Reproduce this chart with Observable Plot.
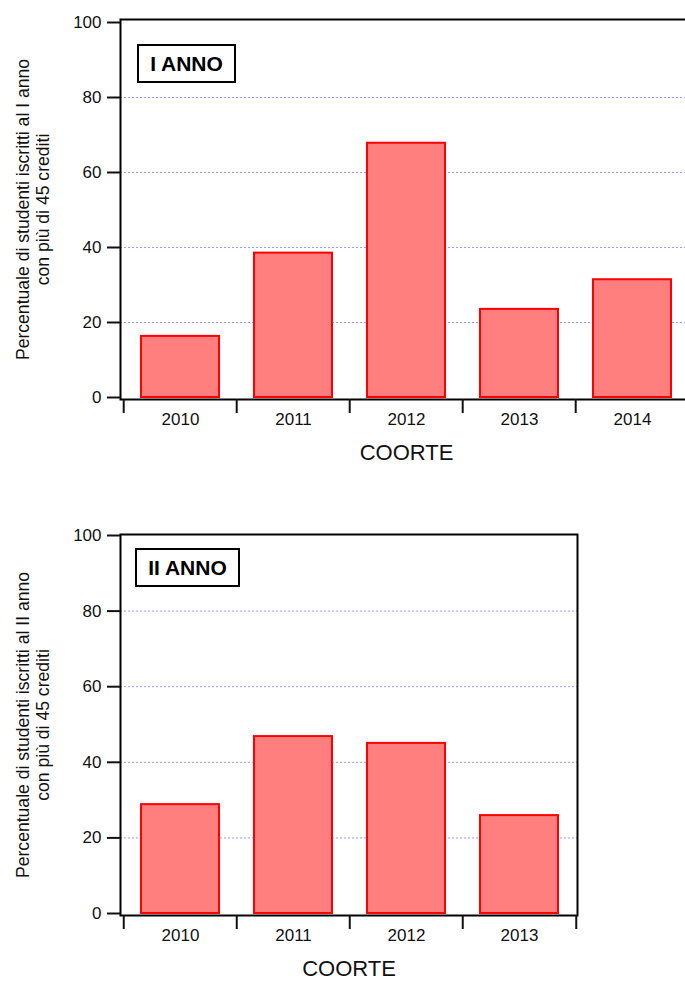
<!DOCTYPE html>
<html>
<head>
<meta charset="utf-8">
<script src="https://cdn.jsdelivr.net/npm/d3@7"></script>
<script src="https://cdn.jsdelivr.net/npm/@observablehq/plot@0.6"></script>
<style>
  html, body { margin: 0; padding: 0; background: #fff; overflow: hidden; }
  body { width: 685px; height: 985px; position: relative; font-family: "Liberation Sans", Arial, sans-serif; }
  .chart { position: absolute; left: 0; }
  .chart svg { max-width: none !important; }
  .tag { position: absolute; border: 2px solid #000; box-sizing: border-box; background: #fff;
         font: bold 21px "Liberation Sans", Arial, sans-serif; color: #000;
         display: flex; align-items: center; justify-content: center; }
</style>
</head>
<body>
<div id="c1" class="chart" style="top:0"></div>
<div id="c2" class="chart" style="top:500px"></div>
<div class="tag" style="left:137px; top:44px; width:99px; height:39px;">I ANNO</div>
<div class="tag" style="left:135px; top:548px; width:105px; height:39px;">II ANNO</div>
<script>
const years1 = ["2010", "2011", "2012", "2013", "2014"];
const values1 = [16.3, 38.5, 67.8, 23.5, 31.4];
const years2 = ["2010", "2011", "2012", "2013"];
const values2 = [28.8, 46.8, 45.0, 25.9];
const yTicks = [0, 20, 40, 60, 80, 100];
const gridTicks = [20, 40, 60, 80];
const yTitle1 = "Percentuale di studenti iscritti al I anno\ncon più di 45 crediti";
const yTitle2 = "Percentuale di studenti iscritti al II anno\ncon più di 45 crediti";
const xTitle = "COORTE";

function makeChart({years, values, yTitle, width, height, marginTop, marginBottom, marginRight, xRange, yRange, halfStep}) {
  const data = years.map((y, i) => ({year: y, value: values[i]}));
  const font = "'Liberation Sans', Arial, sans-serif";
  return Plot.plot({
    width, height,
    marginLeft: 120, marginRight, marginTop, marginBottom,
    style: {fontFamily: font, color: "#111", background: "#fff", maxWidth: "none", overflow: "visible"},
    x: {domain: years, range: xRange, paddingInner: 0.313, paddingOuter: 0.1565},
    y: {domain: [0, 100], range: yRange},
    marks: [
      Plot.ruleY(gridTicks, {stroke: "#9a9aff", strokeWidth: 1, strokeDasharray: "2,2"}),
      Plot.barY(data, {x: "year", y: "value", fill: "#ff7f7f", stroke: "#ff0000", strokeWidth: 2}),
      Plot.frame({stroke: "#000", strokeWidth: 2}),
      Plot.axisY({ticks: yTicks, tickSize: 13, tickPadding: 6, fontSize: 17, strokeWidth: 2, label: null, fill: "#111"}),
      Plot.axisX({tickSize: 0, tickPadding: 13, fontSize: 17, label: null, fill: "#111"}),
      Plot.axisX({tickSize: 14, strokeWidth: 2, text: null, dx: -halfStep, label: null}),
      Plot.axisX({ticks: [years[years.length - 1]], tickSize: 14, strokeWidth: 2, text: null, dx: halfStep, label: null}),
      Plot.text([yTitle], {frameAnchor: "left", textAnchor: "middle", lineAnchor: "middle", dx: -88, rotate: -90, fontSize: 17.6, lineHeight: 1.12, fill: "#111"}),
      Plot.text([xTitle], {frameAnchor: "bottom", dy: 60, fontSize: 22, fill: "#111"})
    ]
  });
}

document.getElementById("c1").appendChild(makeChart({
  years: years1, values: values1, yTitle: yTitle1,
  width: 700, height: 500, marginTop: 19, marginBottom: 101, marginRight: 8,
  xRange: [122, 690], yRange: [397, 22], halfStep: 56.8
}));
document.getElementById("c2").appendChild(makeChart({
  years: years2, values: values2, yTitle: yTitle2,
  width: 685, height: 485, marginTop: 34, marginBottom: 70, marginRight: 108,
  xRange: [122, 576], yRange: [413, 35], halfStep: 56.75
}));
</script>
</body>
</html>
